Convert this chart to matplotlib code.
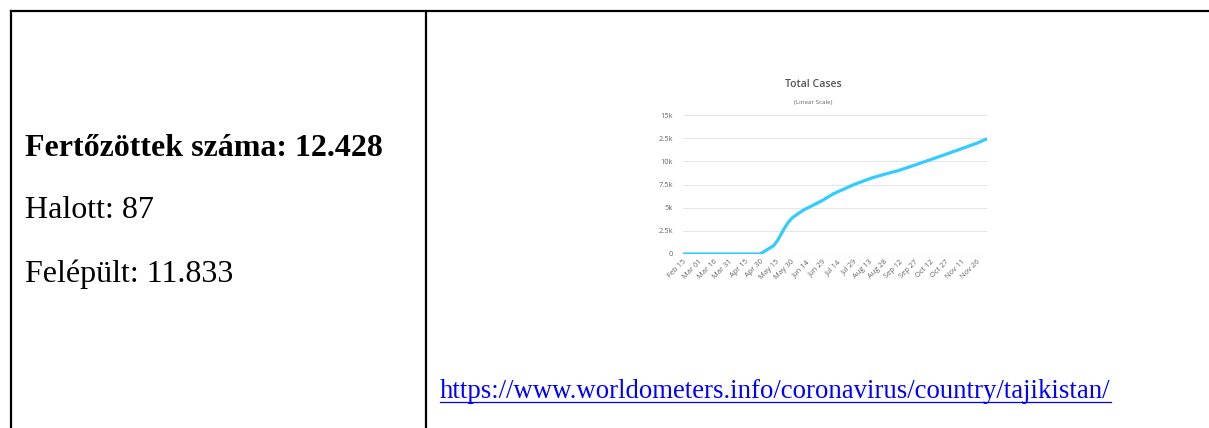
import numpy as np
import pandas as pd
import matplotlib
matplotlib.use("Agg")
import matplotlib.pyplot as plt
from matplotlib.lines import Line2D

# values
dates = ["2020-02-15", "2020-04-29", "2020-04-30", "2020-05-05", "2020-05-10",
         "2020-05-13", "2020-05-17", "2020-05-20", "2020-05-23", "2020-05-27",
         "2020-05-31", "2020-06-05", "2020-06-11", "2020-06-20", "2020-06-28",
         "2020-07-10", "2020-07-20", "2020-07-30", "2020-08-16", "2020-08-30",
         "2020-09-11", "2020-09-27", "2020-10-10", "2020-10-23", "2020-11-11",
         "2020-11-26", "2020-12-06"]
cases = [0, 0, 15, 350, 700, 900, 1500, 2100, 2700, 3400, 3900, 4300, 4750,
         5250, 5700, 6500, 7000, 7500, 8200, 8650, 9000, 9600, 10100, 10600,
         11350, 11950, 12428]
tick_dates = pd.date_range("2020-02-15", "2020-11-26", freq="15D")
y_ticks = [0, 2500, 5000, 7500, 10000, 12500, 15000]
# the second label is cut to "2.5k" in the source screenshot
y_labels = ["0", "2.5k", "5k", "7.5k", "10k", "2.5k", "15k"]

W, H = 1209, 428
fig = plt.figure(figsize=[W / 100, H / 100], dpi=100)

def fx(px):
    return px / W

def fy(py):
    return 1 - py / H

# table borders
lw = 1.6
fig.add_artist(Line2D([fx(11), fx(1209)], [fy(11), fy(11)], color="black", lw=lw))
fig.add_artist(Line2D([fx(11), fx(11)], [fy(11), fy(428)], color="black", lw=lw))
fig.add_artist(Line2D([fx(426), fx(426)], [fy(11), fy(428)], color="black", lw=lw))

# left cell text
serif = "Liberation Serif"
fig.text(fx(25), fy(155.5), "Fertőzöttek száma: 12.428", fontsize=23, fontweight="bold",
         family=serif, va="baseline", ha="left")
fig.text(fx(25), fy(218), "Halott: 87", fontsize=23, family=serif, va="baseline", ha="left")
fig.text(fx(25), fy(282), "Felépült: 11.833", fontsize=23, family=serif, va="baseline", ha="left")

# link
link = fig.text(fx(440), fy(398), "https://www.worldometers.info/coronavirus/country/tajikistan/",
                fontsize=19.3, family=serif, color="#0000ff", va="baseline", ha="left")
fig.canvas.draw()
bb = link.get_window_extent()
fig.add_artist(Line2D([bb.x0 / W, bb.x1 / W], [fy(401.5), fy(401.5)], color="#0000ff", lw=0.9))

# small chart
ax = fig.add_axes([fx(683), fy(254), fx(987) - fx(683), (254 - 115) / H])
x = pd.to_datetime(dates)
ax.plot(x, cases, color="#33ccff", lw=2.3, solid_capstyle="round", solid_joinstyle="round")
ax.set_xlim(pd.Timestamp("2020-02-15"), pd.Timestamp("2020-12-06"))
ax.set_ylim(0, 15000)
ax.set_yticks(y_ticks)
ax.set_yticklabels(y_labels)
ax.set_xticks(tick_dates)
ax.set_xticklabels([d.strftime("%b %d") for d in tick_dates], rotation=45,
                   ha="right", va="top", rotation_mode="anchor")
for s in ax.spines.values():
    s.set_visible(False)
ax.grid(axis="y", color="#e6e6e6", lw=0.7)
ax.axhline(0, color="#ccd6eb", lw=0.8, zorder=0)
ax.tick_params(axis="y", length=0, pad=7, labelsize=5.4, labelcolor="#666666")
ax.tick_params(axis="x", length=0, pad=3, labelsize=5.4, labelcolor="#666666")
for lab in ax.get_xticklabels() + ax.get_yticklabels():
    lab.set_family("Open Sans")
ax.set_axisbelow(True)

fig.text(fx(813), fy(87), "Total Cases", fontsize=7.6, family="Open Sans",
         fontweight="semibold", color="#555555", ha="center", va="baseline")
fig.text(fx(813), fy(104), "(Linear Scale)", fontsize=4.5, family="Open Sans",
         color="#666666", ha="center", va="baseline")

plt.savefig("out.png", dpi=100)
